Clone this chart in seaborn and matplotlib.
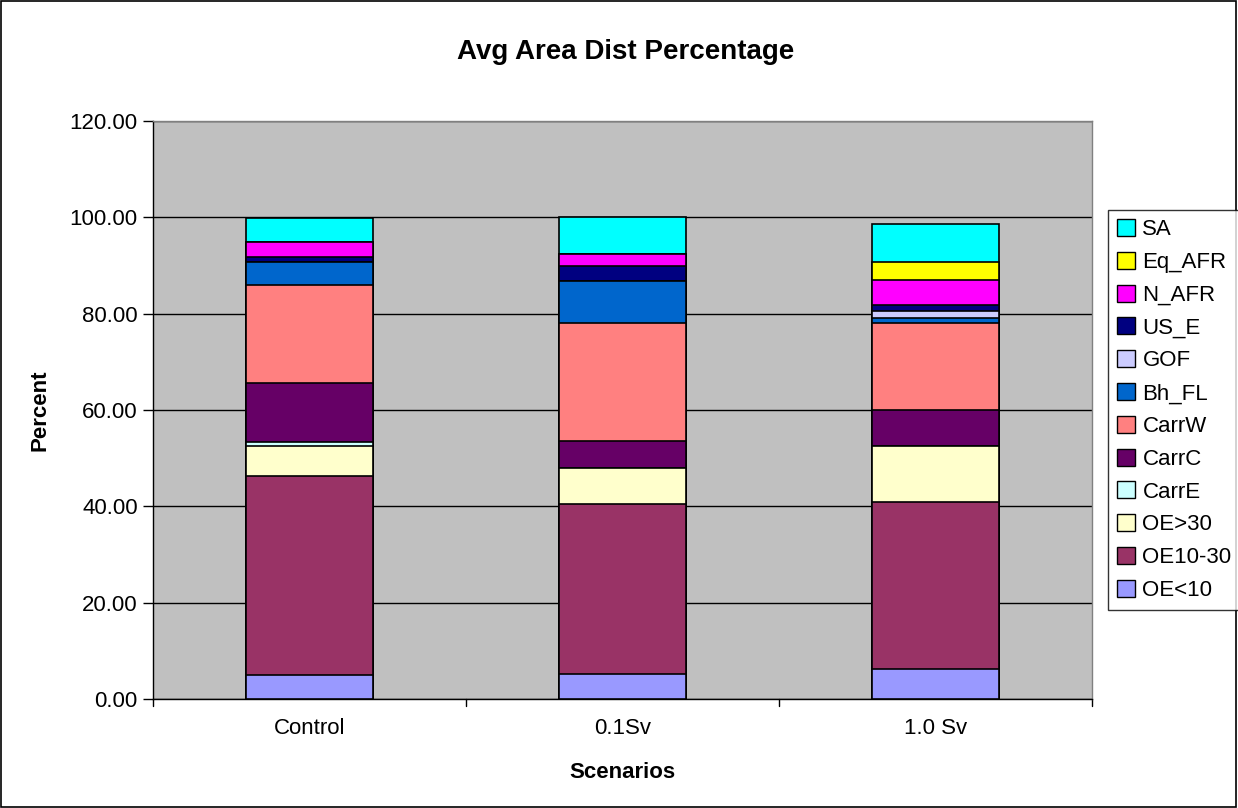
import numpy as np
import pandas as pd
import matplotlib
matplotlib.use("Agg")
import matplotlib.pyplot as plt
import seaborn as sns
from matplotlib.patches import Patch, Rectangle

scenarios = ["Control", "0.1Sv", "1.0 Sv"]
series = ["OE<10", "OE10-30", "OE>30", "CarrE", "CarrC", "CarrW",
          "Bh_FL", "GOF", "US_E", "N_AFR", "Eq_AFR", "SA"]
colors = ["#9999FF", "#993366", "#FFFFCC", "#CCFFFF", "#660066", "#FF8080",
          "#0066CC", "#CCCCFF", "#000080", "#FF00FF", "#FFFF00", "#00FFFF"]

oe_lt10 = [5.0, 5.2, 6.3]
oe_10_30 = [41.4, 35.2, 34.6]
oe_gt30 = [6.1, 7.6, 11.6]
carr_e = [0.9, 0.0, 0.0]
carr_c = [12.3, 5.6, 7.6]
carr_w = [20.2, 24.4, 17.9]
bh_fl = [4.9, 8.8, 1.2]
gof = [0.0, 0.0, 1.4]
us_e = [1.0, 3.2, 1.3]
n_afr = [3.1, 2.4, 5.1]
eq_afr = [0.0, 0.0, 3.8]
sa = [5.0, 7.6, 7.75]

values = [oe_lt10, oe_10_30, oe_gt30, carr_e, carr_c, carr_w,
          bh_fl, gof, us_e, n_afr, eq_afr, sa]

df = pd.DataFrame(np.array(values).T, columns=series)
df.insert(0, "Scenario", scenarios)
cum = df[series].cumsum(axis=1)
cum["Scenario"] = scenarios

sns.set_style("white")
plt.rcParams["font.family"] = ["Liberation Sans", "DejaVu Sans"]
plt.rcParams["text.color"] = "black"
plt.rcParams["axes.labelcolor"] = "black"
plt.rcParams["xtick.color"] = "black"
plt.rcParams["ytick.color"] = "black"

fig = plt.figure(figsize=(12.38, 8.08), dpi=100)
ax = fig.add_axes([153 / 1238, 1 - 699 / 808, 939 / 1238, 578 / 808])
ax.set_facecolor("#C0C0C0")

# stacked look: draw cumulative totals from the top down
for name, col in zip(series[::-1], colors[::-1]):
    sns.barplot(data=cum, x="Scenario", y=name, order=scenarios, color=col,
                width=0.406, edgecolor="black", linewidth=1.2,
                saturation=1, ax=ax, zorder=3)

ax.set_xlim(-0.5, 2.5)
ax.set_ylim(0, 120)
ax.set_yticks(np.arange(0, 121, 20))
ax.set_yticklabels([f"{v:.2f}" for v in np.arange(0, 121, 20)], fontsize=16)
ax.set_xticks([0, 1, 2])
ax.set_xticklabels(scenarios, fontsize=16)
ax.tick_params(axis="x", length=0, pad=14)
ax.tick_params(axis="y", length=7, width=1, direction="out", left=True, pad=4)
for b in [-0.5, 0.5, 1.5, 2.5]:
    ax.plot([b, b], [0, -0.012], transform=ax.get_xaxis_transform(),
            color="black", lw=1, clip_on=False)
ax.yaxis.grid(True, color="black", linewidth=1)
ax.set_axisbelow(True)
for s in ax.spines.values():
    s.set_color("#808080")
    s.set_linewidth(1)
ax.spines["bottom"].set_color("black")
ax.spines["left"].set_color("black")

ax.set_xlabel("Scenarios", fontsize=16, fontweight="bold", labelpad=16)
ax.set_ylabel("")
fig.text(40 / 1238, 1 - 410 / 808, "Percent", rotation=90,
         ha="center", va="center", fontsize=16, fontweight="bold")
fig.text(626 / 1238, 1 - 52 / 808, "Avg Area Dist Percentage",
         ha="center", va="center", fontsize=20, fontweight="bold")

handles = [Patch(facecolor=c, edgecolor="black", label=s)
           for s, c in zip(series[::-1], colors[::-1])]
leg = fig.legend(handles=handles, loc="center left",
                 bbox_to_anchor=(1108 / 1238, 1 - 410 / 808),
                 fontsize=16, frameon=True, fancybox=False,
                 handlelength=0.8, handleheight=0.8, handletextpad=0.35,
                 labelspacing=0.52, borderpad=0.4, borderaxespad=0)
leg.get_frame().set_edgecolor("black")
leg.get_frame().set_linewidth(1)

fig.patches.append(Rectangle((0.0005, 0.0008), 0.998, 0.998, transform=fig.transFigure,
                             fill=False, edgecolor="black", linewidth=1.2))

fig.savefig("out.png", dpi=100, facecolor="white")
